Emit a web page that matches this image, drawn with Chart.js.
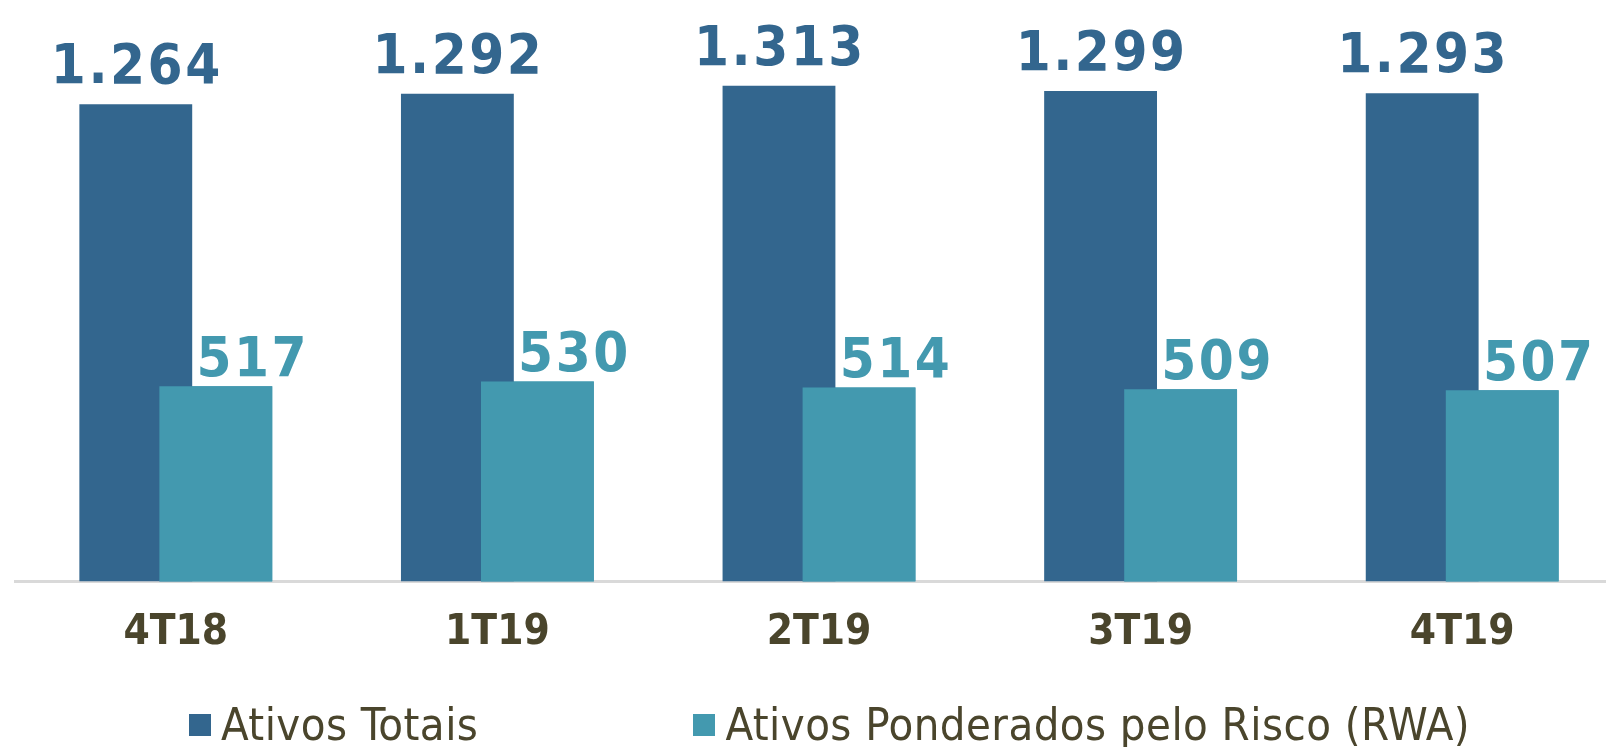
<!DOCTYPE html>
<html lang="pt">
<head>
    <meta charset="UTF-8">
    <title>Ativos Totais e RWA</title>
    <script src="https://cdn.jsdelivr.net/npm/chart.js@4.4.0/dist/chart.umd.min.js"></script>
    <style>
        html, body { margin: 0; padding: 0; background: #fff; overflow: hidden; }
        #wrap { position: relative; width: 1606px; height: 747px; overflow: hidden; }
        #chart { position: absolute; left: 0; top: 0; }
        .legend {
            position: absolute; left: 189px; top: 699px; height: 52px;
            display: flex; align-items: center; gap: 215px;
            font-family: 'DejaVu Sans Condensed', 'DejaVu Sans', sans-serif;
            font-size: 45px; line-height: 52px; letter-spacing: 0.45px;
            color: #4a452c; white-space: nowrap;
        }
        .legend span.item { display: flex; align-items: center; }
        .legend i { display: inline-block; width: 22px; height: 22px; margin-right: 10px; }
    </style>
</head>
<body>
<div id="wrap">
    <canvas id="chart" width="1623" height="747"></canvas>
    <div class="legend" id="legend"></div>
</div>

<script>
    // data (R$ bilhões)
    var quarters = ["4T18", "1T19", "2T19", "3T19", "4T19"];
    var ativosTotais = [1264, 1292, 1313, 1299, 1293];
    var rwa = [517, 530, 514, 509, 507];
    var seriesNames = ["Ativos Totais", "Ativos Ponderados pelo Risco (RWA)"];

    var darkBlue = "#33668e";
    var teal = "#4399af";
    var labelFont = "'DejaVu Sans Condensed', 'DejaVu Sans', sans-serif";

    function fmt(v) {
        return v.toLocaleString("pt-BR");
    }

    // chart.js paints dataset 0 last; the RWA bars have to sit on top
    var rwaOnTop = {
        id: "rwaOnTop",
        afterDatasetDraw: function(chart, args) {
            if (args.index !== 0) return;
            var ctx = chart.ctx;
            chart.getDatasetMeta(1).data.forEach(function(bar) {
                bar.draw(ctx);
            });
        }
    };

    // value labels above the bars
    var valueLabels = {
        id: "valueLabels",
        afterDatasetsDraw: function(chart) {
            var ctx = chart.ctx;
            ctx.save();
            ctx.font = "bold 56px " + labelFont;
            ctx.letterSpacing = "2.5px";
            ctx.textAlign = "center";
            ctx.textBaseline = "alphabetic";
            chart.data.datasets.forEach(function(ds, i) {
                var meta = chart.getDatasetMeta(i);
                ctx.fillStyle = ds.backgroundColor;
                meta.data.forEach(function(bar, j) {
                    var dx = i === 0 ? 1 : 37;
                    var dy = i === 0 ? 21 : 10;
                    ctx.fillText(fmt(ds.data[j]), bar.x + dx, bar.y - dy);
                });
            });
            ctx.restore();
        }
    };

    var chart = new Chart(document.getElementById("chart"), {
        type: "bar",
        data: {
            labels: quarters,
            datasets: [
                { label: seriesNames[0], data: ativosTotais, backgroundColor: darkBlue },
                { label: seriesNames[1], data: rwa, backgroundColor: teal }
            ]
        },
        options: {
            responsive: false,
            animation: false,
            devicePixelRatio: 1,
            layout: { padding: { left: 15, right: 0, top: 0, bottom: 71 } },
            datasets: {
                bar: { categoryPercentage: 0.4977, barPercentage: 1.41, borderWidth: 0 }
            },
            plugins: {
                legend: { display: false },
                tooltip: { enabled: false }
            },
            scales: {
                x: {
                    grid: { display: false },
                    border: { display: true, color: "#d9d9d9", width: 3 },
                    ticks: {
                        padding: 18,
                        color: "#4a452c",
                        font: { family: labelFont, weight: "bold", size: 42 }
                    }
                },
                y: { display: false, min: 0, max: 1540 }
            }
        },
        plugins: [rwaOnTop, valueLabels]
    });

    // legend
    var legend = document.getElementById("legend");
    chart.data.datasets.forEach(function(ds) {
        var item = document.createElement("span");
        item.className = "item";
        var box = document.createElement("i");
        box.style.background = ds.backgroundColor;
        item.appendChild(box);
        item.appendChild(document.createTextNode(ds.label));
        legend.appendChild(item);
    });
</script>
</body>
</html>
